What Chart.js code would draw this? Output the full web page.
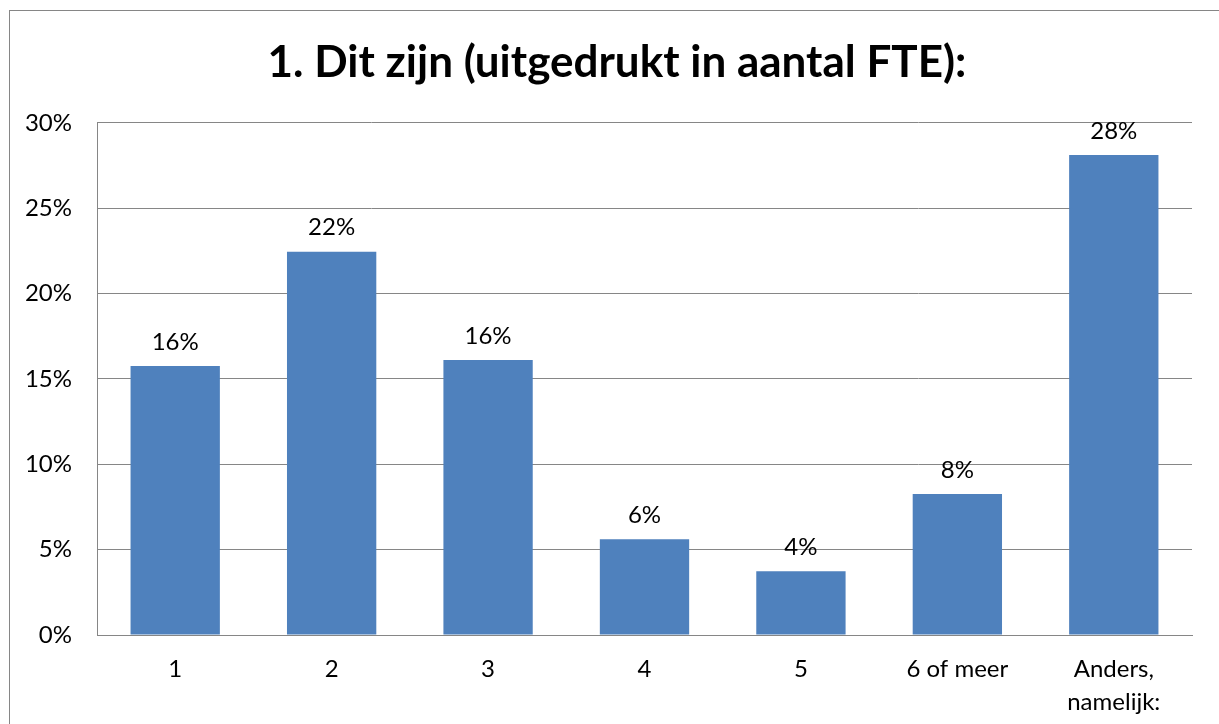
<!DOCTYPE html>
<html>
<head>
<meta charset="utf-8">
<script src="https://cdn.jsdelivr.net/npm/chart.js@4.4.1/dist/chart.umd.min.js"></script>
<style>
    html, body { margin: 0; padding: 0; background: #fff; overflow: hidden; }
    #wrap { position: relative; width: 1219px; height: 724px; }
    #frame { position: absolute; left: 9px; top: 10px; width: 1240px; height: 740px; border: 1px solid #868686; box-sizing: border-box; }
    canvas { position: absolute; left: 0; top: 0; }
</style>
</head>
<body>
<div id="wrap">
    <div id="frame"></div>
    <canvas id="fteChart" width="1219" height="724"></canvas>
</div>
<script>
const titleText = '1. Dit zijn (uitgedrukt in aantal FTE):';
const categories = ['1', '2', '3', '4', '5', '6 of meer', ['Anders,', 'namelijk:']];
const percentages = [15.76, 22.45, 16.11, 5.61, 3.73, 8.26, 28.12];
const yTicks = [0, 5, 10, 15, 20, 25, 30];

const fontFamily = 'Lato, "Open Sans", sans-serif';
const gridColor = '#868686';

// draws the rounded value above each bar (datalabels plugin is not available offline)
const barValueLabels = {
    id: 'barValueLabels',
    afterDatasetsDraw(chart) {
        const ctx = chart.ctx;
        const meta = chart.getDatasetMeta(0);
        ctx.save();
        ctx.font = '24px ' + fontFamily;
        ctx.fillStyle = '#000';
        ctx.textAlign = 'center';
        ctx.textBaseline = 'middle';
        meta.data.forEach((bar, i) => {
            const value = chart.data.datasets[0].data[i];
            ctx.fillText(Math.round(value) + '%', bar.x, bar.y - 24);
        });
        ctx.restore();
    }
};

document.addEventListener("DOMContentLoaded", function () {
    const ctx = document.getElementById("fteChart");

    new Chart(ctx, {
        type: 'bar',
        data: {
            labels: categories,
            datasets: [{
                data: percentages,
                backgroundColor: '#4F81BD',
                borderWidth: 0,
                categoryPercentage: 1,
                barPercentage: 0.571
            }]
        },
        options: {
            responsive: false,
            animation: false,
            events: [],
            layout: {
                padding: { left: 15, right: 0, top: 0, bottom: 0 }
            },
            plugins: {
                legend: { display: false },
                tooltip: { enabled: false },
                title: {
                    display: true,
                    text: titleText,
                    color: '#000',
                    font: { family: fontFamily, size: 44, weight: 'bold', lineHeight: 1.2 },
                    padding: { top: 36, bottom: 34 }
                }
            },
            scales: {
                x: {
                    grid: { display: false, drawTicks: false },
                    border: { color: gridColor, width: 1 },
                    ticks: {
                        color: '#000',
                        padding: 18,
                        maxRotation: 0,
                        autoSkip: false,
                        font: { family: fontFamily, size: 24, lineHeight: 1.38 }
                    },
                    afterFit(scale) { scale.height = 89; }
                },
                y: {
                    min: yTicks[0],
                    max: yTicks[yTicks.length - 1],
                    afterBuildTicks(scale) {
                        scale.ticks = yTicks.map(v => ({ value: v }));
                    },
                    grid: { color: gridColor, lineWidth: 1, drawTicks: false },
                    border: { color: gridColor, width: 1 },
                    ticks: {
                        color: '#000',
                        padding: 25,
                        font: { family: fontFamily, size: 24 },
                        callback: v => v + '%'
                    },
                    afterFit(scale) { scale.width = 82; }
                },
                // empty right-hand spacer so the plot ends where the reference does
                spacer: {
                    type: 'linear',
                    position: 'right',
                    grid: { display: false, drawTicks: false },
                    border: { display: false },
                    ticks: { display: false },
                    afterFit(scale) { scale.width = 27; }
                }
            }
        },
        plugins: [barValueLabels]
    });
});
</script>
</body>
</html>
